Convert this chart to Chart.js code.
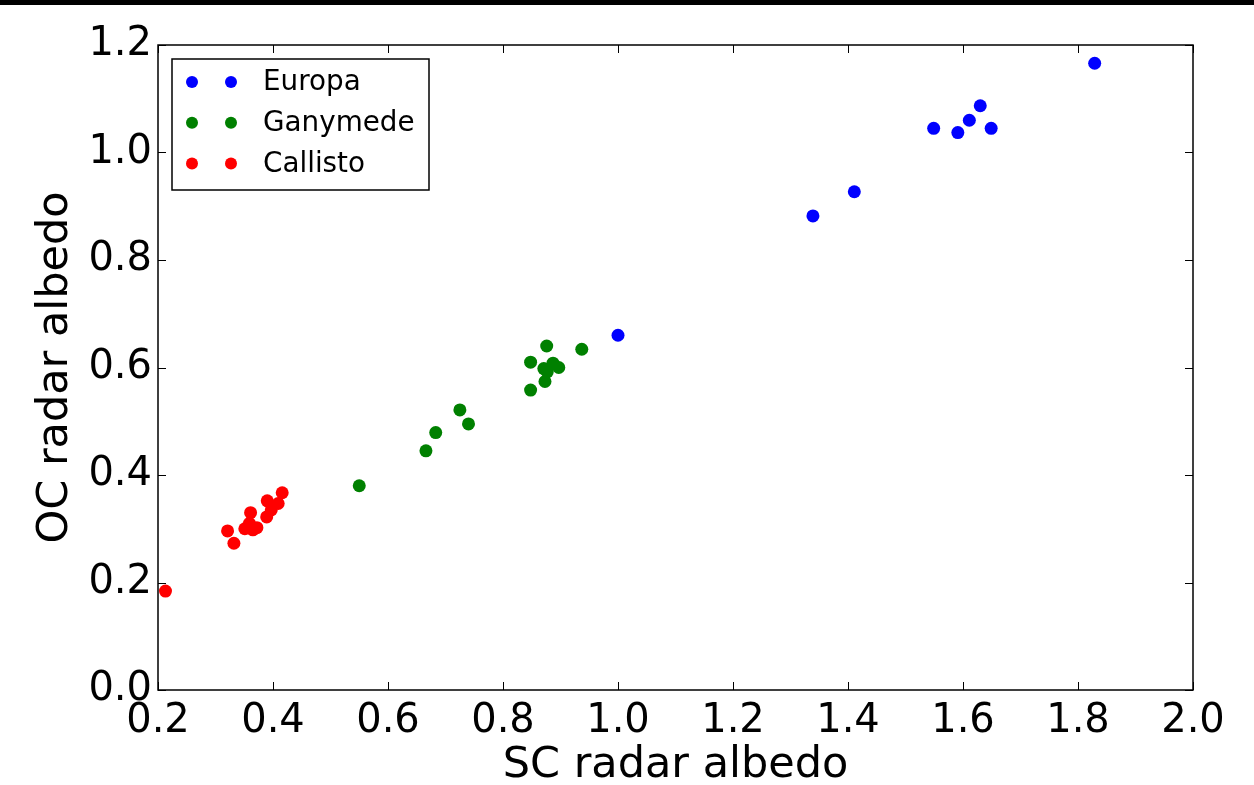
<html>
	<head>
		<meta charset="utf-8">
		<script src="https://cdn.jsdelivr.net/npm/chart.js"></script>
		<style>
			body { margin: 0; background: #fff; }
			#topbar { position: absolute; left: 0; top: 0; width: 1254px; height: 5px; background: #000; }
			#wrap { width: 1254px; height: 785px; }
		</style>
	</head>
	<body>
		<div id="wrap"><canvas id="myChart"></canvas></div>
		<div id="topbar"></div>

		<script>
			// Data
			const europaX = [1.000, 1.339, 1.411, 1.549, 1.591, 1.611, 1.630, 1.649, 1.829];
			const europaY = [0.660, 0.882, 0.927, 1.045, 1.037, 1.060, 1.087, 1.045, 1.166];

			const ganymedeX = [0.550, 0.666, 0.683, 0.725, 0.740, 0.848, 0.848, 0.873, 0.876, 0.871, 0.877, 0.887, 0.897, 0.937];
			const ganymedeY = [0.380, 0.445, 0.479, 0.521, 0.495, 0.558, 0.610, 0.574, 0.640, 0.598, 0.592, 0.608, 0.600, 0.634];

			const callistoX = [0.213, 0.321, 0.332, 0.351, 0.361, 0.359, 0.365, 0.372, 0.389, 0.390, 0.397, 0.409, 0.416];
			const callistoY = [0.184, 0.296, 0.273, 0.300, 0.330, 0.310, 0.298, 0.302, 0.322, 0.352, 0.335, 0.347, 0.367];

			const seriesNames = ['Europa', 'Ganymede', 'Callisto'];
			const seriesColors = ['#0000ff', '#008000', '#ff0000'];

			const xTicks = [0.2, 0.4, 0.6, 0.8, 1.0, 1.2, 1.4, 1.6, 1.8, 2.0];
			const yTicks = [0.0, 0.2, 0.4, 0.6, 0.8, 1.0, 1.2];

			const toPoints = (xs, ys) => xs.map((x, i) => ({ x: x, y: ys[i] }));
			const allX = [europaX, ganymedeX, callistoX];
			const allY = [europaY, ganymedeY, callistoY];

			const FONT = 'DejaVu Sans';

			// frame, inward ticks and matplotlib-style legend
			const frameAndLegend = {
				id: 'frameAndLegend',
				afterDatasetsDraw(chart) {
					const c = chart.ctx;
					const a = chart.chartArea;
					const xs = chart.scales.x, ys = chart.scales.y;
					c.save();
					c.strokeStyle = '#000';
					c.lineWidth = 1;
					c.beginPath();
					xTicks.forEach(v => {
						const px = Math.round(xs.getPixelForValue(v)) + 0.5;
						c.moveTo(px, a.bottom); c.lineTo(px, a.bottom - 8);
						c.moveTo(px, a.top); c.lineTo(px, a.top + 8);
					});
					yTicks.forEach(v => {
						const py = Math.round(ys.getPixelForValue(v)) + 0.5;
						c.moveTo(a.left, py); c.lineTo(a.left + 8, py);
						c.moveTo(a.right, py); c.lineTo(a.right - 8, py);
					});
					c.stroke();
					c.lineWidth = 1.5;
					c.strokeRect(a.left, a.top, a.right - a.left, a.bottom - a.top);

					// legend
					const lx = a.left + 14, ly = a.top + 14, lw = 257, lh = 131;
					c.fillStyle = '#fff';
					c.fillRect(lx, ly, lw, lh);
					c.lineWidth = 1.5;
					c.strokeRect(lx, ly, lw, lh);
					c.font = '27.8px "' + FONT + '"';
					c.textBaseline = 'middle';
					seriesNames.forEach((name, i) => {
						const cy = ly + 23 + i * 40.7;
						c.fillStyle = seriesColors[i];
						[lx + 20, lx + 59].forEach(cx => {
							c.beginPath(); c.arc(cx, cy, 6, 0, Math.PI * 2); c.fill();
						});
						c.fillStyle = '#000';
						c.fillText(name, lx + 91, cy + 1);
					});
					c.restore();
				}
			};

			const ctx = document.getElementById('myChart');
			const chart = new Chart(ctx, {
				type: 'scatter',
				data: {
					datasets: seriesNames.map((name, i) => ({
						label: name,
						data: toPoints(allX[i], allY[i]),
						backgroundColor: seriesColors[i],
						borderColor: seriesColors[i],
						pointRadius: 6.5,
						pointBorderWidth: 0
					}))
				},
				options: {
					responsive: true,
					maintainAspectRatio: false,
					animation: false,
					layout: { padding: { left: 0, right: 61, top: 45, bottom: 0 } },
					plugins: {
						legend: { display: false },
						tooltip: { enabled: false }
					},
					scales: {
						x: {
							type: 'linear',
							min: 0.2, max: 2.0,
							afterBuildTicks: s => { s.ticks = xTicks.map(v => ({ value: v })); },
							afterFit: s => { s.height = 95; },
							grid: { display: false, drawTicks: false },
							border: { display: false },
							ticks: {
								padding: 8,
								color: '#000',
								font: { family: FONT, size: 40 },
								maxRotation: 0,
								callback: v => v.toFixed(1)
							},
							title: {
								display: true,
								text: 'SC radar albedo',
								color: '#000',
								font: { family: FONT, size: 43, lineHeight: 1 },
								padding: { top: 0, bottom: -2 }
							}
						},
						y: {
							type: 'linear',
							min: 0.0, max: 1.2,
							afterBuildTicks: s => { s.ticks = yTicks.map(v => ({ value: v })); },
							afterFit: s => { s.width = 158; },
							grid: { display: false, drawTicks: false },
							border: { display: false },
							ticks: {
								padding: 6,
								color: '#000',
								font: { family: FONT, size: 40 },
								callback: v => v.toFixed(1)
							},
							title: {
								display: true,
								text: 'OC radar albedo',
								color: '#000',
								font: { family: FONT, size: 43, lineHeight: 1 },
								padding: { top: 34, bottom: 0 }
							}
						}
					}
				},
				plugins: [frameAndLegend]
			});
		</script>
	</body>
</html>
